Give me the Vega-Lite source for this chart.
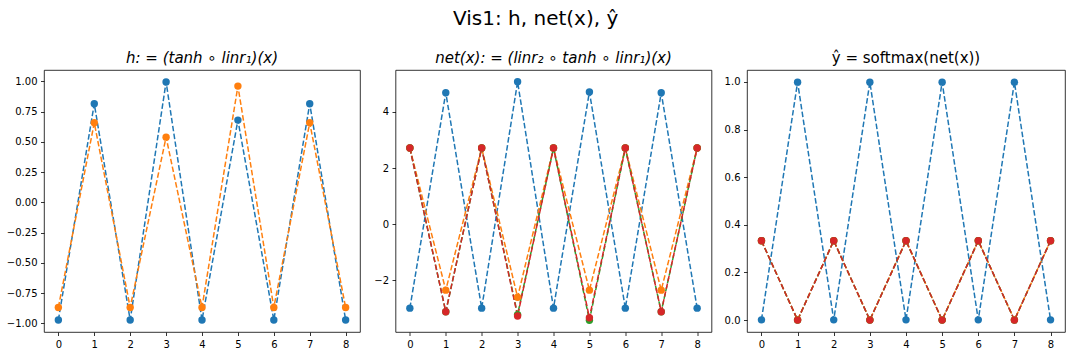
{
  "$schema": "https://vega.github.io/schema/vega-lite/v6.json",
  "background": "white",
  "padding": {"left": 5, "top": 8, "right": 0, "bottom": 0},
  "title": {"text": "Vis1: h, net(x), ŷ", "fontSize": 20, "font": "DejaVu Sans", "fontWeight": "normal", "anchor": "middle", "frame": "bounds", "color": "black", "offset": 22},
  "config": {
    "font": "DejaVu Sans",
    "view": {"stroke": "black", "strokeWidth": 0.8},
    "axis": {"grid": false, "domain": false, "tickColor": "black", "tickSize": 3.5, "tickWidth": 0.8, "labelFontSize": 10, "labelColor": "black", "labelPadding": 3.5, "title": null, "labelFont": "DejaVu Sans"},
    "title": {"fontSize": 15, "fontWeight": "normal", "font": "DejaVu Sans", "color": "black", "frame": "group", "anchor": "middle", "offset": 4},
    "legend": {"disable": true}
  },
  "datasets": {
    "h": [
      {"x": 0, "s": "0", "y": -0.972}, {"x": 1, "s": "0", "y": 0.815}, {"x": 2, "s": "0", "y": -0.972}, {"x": 3, "s": "0", "y": 0.995}, {"x": 4, "s": "0", "y": -0.972}, {"x": 5, "s": "0", "y": 0.68}, {"x": 6, "s": "0", "y": -0.972}, {"x": 7, "s": "0", "y": 0.815}, {"x": 8, "s": "0", "y": -0.972},
      {"x": 0, "s": "1", "y": -0.868}, {"x": 1, "s": "1", "y": 0.658}, {"x": 2, "s": "1", "y": -0.868}, {"x": 3, "s": "1", "y": 0.539}, {"x": 4, "s": "1", "y": -0.868}, {"x": 5, "s": "1", "y": 0.961}, {"x": 6, "s": "1", "y": -0.868}, {"x": 7, "s": "1", "y": 0.658}, {"x": 8, "s": "1", "y": -0.868}
    ],
    "net": [
      {"x": 0, "s": "0", "y": -2.99}, {"x": 1, "s": "0", "y": 4.68}, {"x": 2, "s": "0", "y": -2.99}, {"x": 3, "s": "0", "y": 5.07}, {"x": 4, "s": "0", "y": -2.99}, {"x": 5, "s": "0", "y": 4.71}, {"x": 6, "s": "0", "y": -2.99}, {"x": 7, "s": "0", "y": 4.68}, {"x": 8, "s": "0", "y": -2.99},
      {"x": 0, "s": "1", "y": 2.71}, {"x": 1, "s": "1", "y": -2.35}, {"x": 2, "s": "1", "y": 2.71}, {"x": 3, "s": "1", "y": -2.6}, {"x": 4, "s": "1", "y": 2.71}, {"x": 5, "s": "1", "y": -2.35}, {"x": 6, "s": "1", "y": 2.71}, {"x": 7, "s": "1", "y": -2.35}, {"x": 8, "s": "1", "y": 2.71},
      {"x": 0, "s": "2", "y": 2.71}, {"x": 1, "s": "2", "y": -3.12}, {"x": 2, "s": "2", "y": 2.71}, {"x": 3, "s": "2", "y": -3.22}, {"x": 4, "s": "2", "y": 2.71}, {"x": 5, "s": "2", "y": -3.42}, {"x": 6, "s": "2", "y": 2.71}, {"x": 7, "s": "2", "y": -3.12}, {"x": 8, "s": "2", "y": 2.71},
      {"x": 0, "s": "3", "y": 2.71}, {"x": 1, "s": "3", "y": -3.12}, {"x": 2, "s": "3", "y": 2.71}, {"x": 3, "s": "3", "y": -3.27}, {"x": 4, "s": "3", "y": 2.71}, {"x": 5, "s": "3", "y": -3.33}, {"x": 6, "s": "3", "y": 2.71}, {"x": 7, "s": "3", "y": -3.12}, {"x": 8, "s": "3", "y": 2.71}
    ],
    "yhat": [
      {"x": 0, "s": "0", "y": 0.001}, {"x": 1, "s": "0", "y": 0.999}, {"x": 2, "s": "0", "y": 0.001}, {"x": 3, "s": "0", "y": 0.999}, {"x": 4, "s": "0", "y": 0.001}, {"x": 5, "s": "0", "y": 0.999}, {"x": 6, "s": "0", "y": 0.001}, {"x": 7, "s": "0", "y": 0.999}, {"x": 8, "s": "0", "y": 0.001},
      {"x": 0, "s": "1", "y": 0.333}, {"x": 1, "s": "1", "y": 0.001}, {"x": 2, "s": "1", "y": 0.333}, {"x": 3, "s": "1", "y": 0.001}, {"x": 4, "s": "1", "y": 0.333}, {"x": 5, "s": "1", "y": 0.001}, {"x": 6, "s": "1", "y": 0.333}, {"x": 7, "s": "1", "y": 0.001}, {"x": 8, "s": "1", "y": 0.333},
      {"x": 0, "s": "2", "y": 0.333}, {"x": 1, "s": "2", "y": 0.0}, {"x": 2, "s": "2", "y": 0.333}, {"x": 3, "s": "2", "y": 0.0}, {"x": 4, "s": "2", "y": 0.333}, {"x": 5, "s": "2", "y": 0.0}, {"x": 6, "s": "2", "y": 0.333}, {"x": 7, "s": "2", "y": 0.0}, {"x": 8, "s": "2", "y": 0.333},
      {"x": 0, "s": "3", "y": 0.333}, {"x": 1, "s": "3", "y": 0.0}, {"x": 2, "s": "3", "y": 0.333}, {"x": 3, "s": "3", "y": 0.0}, {"x": 4, "s": "3", "y": 0.333}, {"x": 5, "s": "3", "y": 0.0}, {"x": 6, "s": "3", "y": 0.333}, {"x": 7, "s": "3", "y": 0.0}, {"x": 8, "s": "3", "y": 0.333}
    ]
  },
  "bounds": "flush",
  "spacing": 35.5,
  "hconcat": [
    {
      "width": 316, "height": 262,
      "title": {"text": "h: = (tanh ∘ linr₁)(x)", "fontStyle": "italic"},
      "data": {"name": "h"},
      "encoding": {
        "x": {"field": "x", "type": "quantitative", "scale": {"domain": [-0.4, 8.4], "nice": false, "zero": false}, "axis": {"values": [0,1,2,3,4,5,6,7,8], "format": "d"}},
        "y": {"field": "y", "type": "quantitative", "scale": {"domain": [-1.071, 1.094], "nice": false, "zero": false}, "axis": {"values": [-1, -0.75, -0.5, -0.25, 0, 0.25, 0.5, 0.75, 1], "format": ".2f"}},
        "color": {"field": "s", "type": "nominal", "scale": {"domain": ["0","1","2","3"], "range": ["#1f77b4", "#ff7f0e", "#2ca02c", "#d62728"]}}
      },
      "layer": [
        {"mark": {"type": "line", "strokeWidth": 1.5, "strokeDash": [5.55, 2.4]}},
        {"mark": {"type": "circle", "size": 55, "opacity": 1}}
      ]
    },
    {
      "width": 316, "height": 262,
      "title": {"text": "net(x): = (linr₂ ∘ tanh ∘ linr₁)(x)", "fontStyle": "italic"},
      "data": {"name": "net"},
      "encoding": {
        "x": {"field": "x", "type": "quantitative", "scale": {"domain": [-0.4, 8.4], "nice": false, "zero": false}, "axis": {"values": [0,1,2,3,4,5,6,7,8], "format": "d"}},
        "y": {"field": "y", "type": "quantitative", "scale": {"domain": [-3.84, 5.49], "nice": false, "zero": false}, "axis": {"values": [-2, 0, 2, 4], "format": "d"}},
        "color": {"field": "s", "type": "nominal", "scale": {"domain": ["0","1","2","3"], "range": ["#1f77b4", "#ff7f0e", "#2ca02c", "#d62728"]}}
      },
      "layer": [
        {"mark": {"type": "line", "strokeWidth": 1.5, "strokeDash": [5.55, 2.4]}},
        {"mark": {"type": "circle", "size": 55, "opacity": 1}}
      ]
    },
    {
      "width": 318, "height": 262,
      "title": {"text": "ŷ = softmax(net(x))"},
      "data": {"name": "yhat"},
      "encoding": {
        "x": {"field": "x", "type": "quantitative", "scale": {"domain": [-0.4, 8.4], "nice": false, "zero": false}, "axis": {"values": [0,1,2,3,4,5,6,7,8], "format": "d"}},
        "y": {"field": "y", "type": "quantitative", "scale": {"domain": [-0.05, 1.05], "nice": false, "zero": false}, "axis": {"values": [0, 0.2, 0.4, 0.6, 0.8, 1.0], "format": ".1f"}},
        "color": {"field": "s", "type": "nominal", "scale": {"domain": ["0","1","2","3"], "range": ["#1f77b4", "#ff7f0e", "#2ca02c", "#d62728"]}}
      },
      "layer": [
        {"mark": {"type": "line", "strokeWidth": 1.5, "strokeDash": [5.55, 2.4]}},
        {"mark": {"type": "circle", "size": 55, "opacity": 1}}
      ]
    }
  ]
}
